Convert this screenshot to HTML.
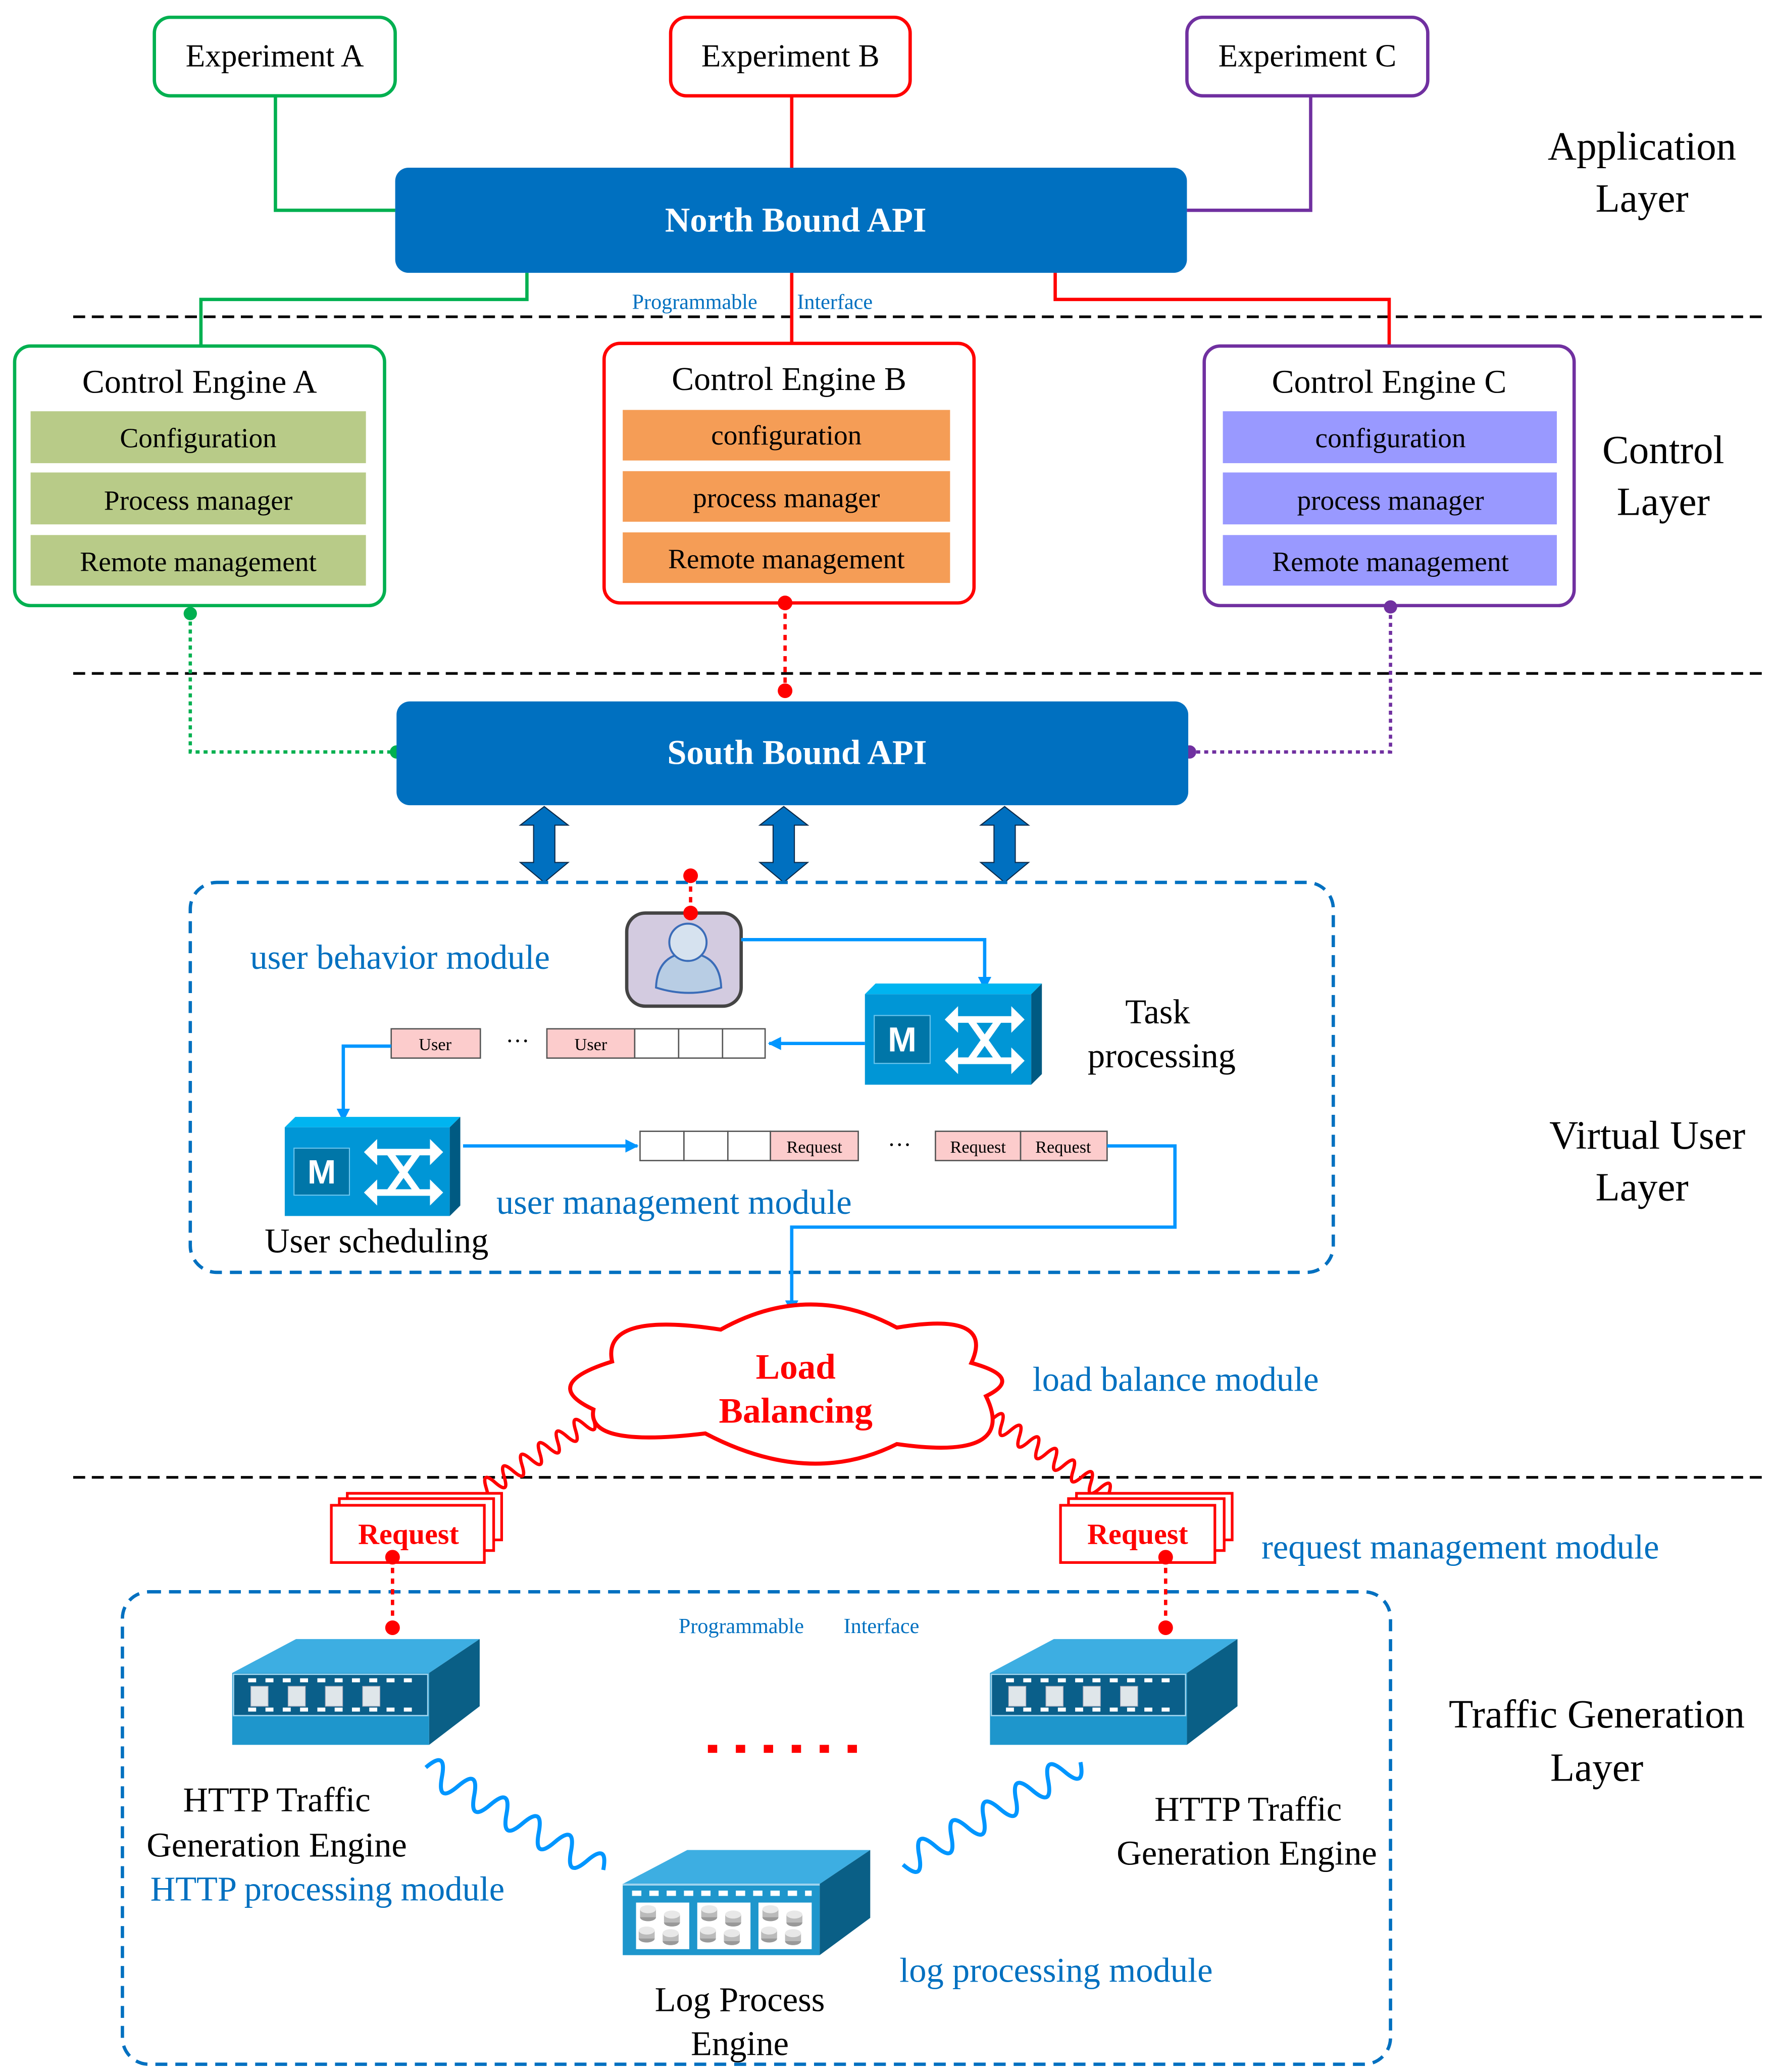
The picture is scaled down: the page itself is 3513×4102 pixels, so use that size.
<!DOCTYPE html>
<html><head><meta charset="utf-8">
<style>
html,body{margin:0;padding:0;background:#fff;}
svg{display:block;}
text{font-family:"Liberation Serif",serif;}
</style></head>
<body>
<svg width="3513" height="4102" viewBox="0 0 1333.2 1556.8" preserveAspectRatio="none" xmlns="http://www.w3.org/2000/svg">
<defs>
<marker id="ab" markerWidth="10" markerHeight="10" refX="9" refY="5" orient="auto" markerUnits="userSpaceOnUse">
<path d="M0 0 L10 5 L0 10 Z" fill="#0096ff"/></marker>
<g id="sw">
<polygon points="0,0 8,-8 133,-8 125,0" fill="#00b4f0"/>
<rect x="0" y="0" width="125" height="68" fill="#0096d6"/>
<polygon points="125,0 133,-8 133,60 125,68" fill="#005a82"/>
<rect x="7" y="16" width="42" height="36" fill="#0076a8" stroke="#6cc6ee" stroke-width="0.8"/>
<text x="28" y="43" font-weight="bold" font-size="26" fill="#fff" text-anchor="middle" style="font-family:'Liberation Sans',sans-serif">M</text>
<g stroke="#fff" stroke-width="5" fill="none">
<path d="M66 19 H114 M66 50 H114 M79 19 L101 50 M101 19 L79 50"/>
</g>
<g fill="#fff">
<polygon points="60,19 70,9 70,29"/><polygon points="120,19 110,9 110,29"/>
<polygon points="60,50 70,40 70,60"/><polygon points="120,50 110,40 110,60"/>
</g>
</g>
<g id="dev">
<polygon points="0,0 48,-25.5 186,-25.5 148,0" fill="#3daee2"/>
<polygon points="148,0 186,-25.5 186,25 148,54" fill="#0a5f86"/>
<rect x="0" y="0" width="148" height="54" fill="#1e96cc"/>
<rect x="1" y="1" width="146" height="31" fill="#0a5f8a" stroke="#9fd4ee" stroke-width="1"/>
<g fill="#fff">
<rect x="12" y="4" width="6" height="3"/><rect x="25" y="4" width="6" height="3"/><rect x="38" y="4" width="6" height="3"/><rect x="51" y="4" width="6" height="3"/><rect x="64" y="4" width="6" height="3"/><rect x="77" y="4" width="6" height="3"/><rect x="90" y="4" width="6" height="3"/><rect x="103" y="4" width="6" height="3"/><rect x="116" y="4" width="6" height="3"/><rect x="129" y="4" width="6" height="3"/>
<rect x="12" y="26" width="6" height="3"/><rect x="25" y="26" width="6" height="3"/><rect x="38" y="26" width="6" height="3"/><rect x="51" y="26" width="6" height="3"/><rect x="64" y="26" width="6" height="3"/><rect x="77" y="26" width="6" height="3"/><rect x="90" y="26" width="6" height="3"/><rect x="103" y="26" width="6" height="3"/><rect x="116" y="26" width="6" height="3"/><rect x="129" y="26" width="6" height="3"/>
</g>
<g fill="#dfe6ea" stroke="#aab" stroke-width="0.5">
<rect x="14" y="10" width="13" height="15"/><rect x="42" y="10" width="13" height="15"/><rect x="70" y="10" width="13" height="15"/><rect x="98" y="10" width="13" height="15"/>
</g>
</g>
<g id="db">
<ellipse cx="6" cy="9" rx="6" ry="3" fill="#999"/><rect x="0" y="3" width="12" height="6" fill="#bbb"/><ellipse cx="6" cy="3" rx="6" ry="3" fill="#e8e8e8"/>
</g>
</defs>

<g stroke="#000" stroke-width="2" stroke-dasharray="9,5">
<line x1="55" y1="238" x2="1325" y2="238"/>
<line x1="55" y1="506" x2="1325" y2="506"/>
<line x1="55" y1="1110" x2="1325" y2="1110"/>
</g>

<path d="M207 72 V158 H297" stroke="#00b050" stroke-width="2.5" fill="none"/>
<path d="M595 72 V126" stroke="#ff0000" stroke-width="2.5" fill="none"/>
<path d="M985 72 V158 H892" stroke="#7030a0" stroke-width="2.5" fill="none"/>
<path d="M396 205 V225 H151 V260" stroke="#00b050" stroke-width="2.5" fill="none"/>
<path d="M595 205 V258" stroke="#ff0000" stroke-width="2.5" fill="none"/>
<path d="M793 205 V225 H1044 V260" stroke="#ff0000" stroke-width="2.5" fill="none"/>

<rect x="116" y="13" width="181" height="59" rx="12" fill="#fff" stroke="#00b050" stroke-width="2.5"/>
<text x="206.5" y="50" font-size="24" text-anchor="middle">Experiment A</text>
<rect x="504" y="13" width="180" height="59" rx="12" fill="#fff" stroke="#ff0000" stroke-width="2.5"/>
<text x="594" y="50" font-size="24" text-anchor="middle">Experiment B</text>
<rect x="892" y="13" width="181" height="59" rx="12" fill="#fff" stroke="#7030a0" stroke-width="2.5"/>
<text x="982.5" y="50" font-size="24" text-anchor="middle">Experiment C</text>

<rect x="297" y="126" width="595" height="79" rx="10" fill="#0070c0"/>
<text x="598" y="174" font-size="26" font-weight="bold" fill="#fff" text-anchor="middle">North Bound API</text>
<text x="475" y="232" font-size="16" fill="#0070c0">Programmable</text>
<text x="599" y="232" font-size="16" fill="#0070c0">Interface</text>

<g font-size="30" text-anchor="middle">
<text x="1234" y="120">Application</text><text x="1234" y="159">Layer</text>
<text x="1250" y="348">Control</text><text x="1250" y="387">Layer</text>
<text x="1238" y="863">Virtual User</text><text x="1234" y="902">Layer</text>
<text x="1200" y="1298">Traffic Generation</text><text x="1200" y="1338">Layer</text>
</g>

<rect x="11" y="260" width="278" height="195" rx="12" fill="#fff" stroke="#00b050" stroke-width="2.5"/>
<text x="150" y="295" font-size="25" text-anchor="middle">Control Engine A</text>
<g fill="#b8cb88"><rect x="23" y="309" width="252" height="39"/><rect x="23" y="355" width="252" height="39"/><rect x="23" y="402" width="252" height="38"/></g>
<g font-size="21" text-anchor="middle"><text x="149" y="336">Configuration</text><text x="149" y="383">Process manager</text><text x="149" y="429">Remote management</text></g>

<rect x="454" y="258" width="278" height="195" rx="12" fill="#fff" stroke="#ff0000" stroke-width="2.5"/>
<text x="593" y="293" font-size="25" text-anchor="middle">Control Engine B</text>
<g fill="#f59d56"><rect x="468" y="308" width="246" height="38"/><rect x="468" y="354" width="246" height="38"/><rect x="468" y="400" width="246" height="38"/></g>
<g font-size="21" text-anchor="middle"><text x="591" y="334">configuration</text><text x="591" y="381">process manager</text><text x="591" y="427">Remote management</text></g>

<rect x="905" y="260" width="278" height="195" rx="12" fill="#fff" stroke="#7030a0" stroke-width="2.5"/>
<text x="1044" y="295" font-size="25" text-anchor="middle">Control Engine C</text>
<g fill="#9999ff"><rect x="919" y="309" width="251" height="39"/><rect x="919" y="355" width="251" height="39"/><rect x="919" y="402" width="251" height="38"/></g>
<g font-size="21" text-anchor="middle"><text x="1045" y="336">configuration</text><text x="1045" y="383">process manager</text><text x="1045" y="429">Remote management</text></g>

<path d="M143 461 V565 H298" stroke="#00b050" stroke-width="2.5" stroke-dasharray="3,3" fill="none"/>
<circle cx="143" cy="461" r="5" fill="#00b050"/><circle cx="298" cy="565" r="5" fill="#00b050"/>
<path d="M590 453 V519" stroke="#ff0000" stroke-width="2.5" stroke-dasharray="4,4" fill="none"/>
<circle cx="590" cy="453" r="5.5" fill="#ff0000"/><circle cx="590" cy="519" r="5.5" fill="#ff0000"/>
<path d="M1045 456 V565 H894" stroke="#7030a0" stroke-width="2.5" stroke-dasharray="3,3" fill="none"/>
<circle cx="1045" cy="456" r="5" fill="#7030a0"/><circle cx="894" cy="565" r="5" fill="#7030a0"/>

<rect x="298" y="527" width="595" height="78" rx="10" fill="#0070c0"/>
<text x="599" y="574" font-size="26" font-weight="bold" fill="#fff" text-anchor="middle">South Bound API</text>

<g fill="#0070c0" stroke="#0a2a4a" stroke-width="0.8">
<polygon points="409,606 427,620 417,620 417,648 427,648 409,663 391,648 401,648 401,620 391,620"/>
<polygon points="589,606 607,620 597,620 597,648 607,648 589,663 571,648 581,648 581,620 571,620"/>
<polygon points="755,606 773,620 763,620 763,648 773,648 755,663 737,648 747,648 747,620 737,620"/>
</g>

<rect x="143" y="663" width="859" height="293" rx="20" fill="none" stroke="#0070c0" stroke-width="2.5" stroke-dasharray="9,6"/>
<text x="188" y="728" font-size="26" fill="#0070c0">user behavior module</text>

<path d="M519 658 V686" stroke="#ff0000" stroke-width="2.5" stroke-dasharray="4,4"/>
<circle cx="519" cy="658" r="5.5" fill="#ff0000"/>
<rect x="471" y="686" width="86" height="70" rx="14" fill="#d3cbe0" stroke="#444" stroke-width="2.5"/>
<circle cx="519" cy="686" r="5.5" fill="#ff0000"/>
<g stroke="#3a6cb8" stroke-width="1.5">
<path d="M493 742 Q494 717 517 716 Q541 717 542 742 Q518 750 493 742 Z" fill="#b8cde4"/>
<circle cx="517" cy="708" r="14" fill="#d6e2ef"/>
</g>

<path d="M557 706 H740 V743" stroke="#0096ff" stroke-width="2.5" fill="none" marker-end="url(#ab)"/>
<use href="#sw" x="650" y="747"/>
<text x="870" y="769" font-size="26" text-anchor="middle">Task</text>
<text x="873" y="802" font-size="26" text-anchor="middle">processing</text>

<g stroke="#555" stroke-width="1">
<rect x="294" y="773" width="67" height="22" fill="#fccccc"/>
<rect x="411" y="773" width="66" height="22" fill="#fccccc"/>
<rect x="477" y="773" width="33" height="22" fill="#fff"/>
<rect x="510" y="773" width="33" height="22" fill="#fff"/>
<rect x="543" y="773" width="32" height="22" fill="#fff"/>
</g>
<g font-size="13" text-anchor="middle"><text x="327" y="789">User</text><text x="444" y="789">User</text></g>
<text x="389" y="788" font-size="18" text-anchor="middle">···</text>
<path d="M650 784 H578" stroke="#0096ff" stroke-width="2.5" fill="none" marker-end="url(#ab)"/>
<path d="M294 786 H258 V842" stroke="#0096ff" stroke-width="2.5" fill="none" marker-end="url(#ab)"/>

<use href="#sw" transform="translate(214,847) scale(0.992,0.98)"/>
<text x="283" y="941" font-size="26" text-anchor="middle">User scheduling</text>
<path d="M348 861 H479" stroke="#0096ff" stroke-width="2.5" fill="none" marker-end="url(#ab)"/>
<g stroke="#555" stroke-width="1">
<rect x="481" y="850" width="33" height="22" fill="#fff"/>
<rect x="514" y="850" width="33" height="22" fill="#fff"/>
<rect x="547" y="850" width="32" height="22" fill="#fff"/>
<rect x="579" y="850" width="66" height="22" fill="#fccccc"/>
<rect x="703" y="850" width="64" height="22" fill="#fccccc"/>
<rect x="767" y="850" width="65" height="22" fill="#fccccc"/>
</g>
<g font-size="13" text-anchor="middle"><text x="612" y="866">Request</text><text x="735" y="866">Request</text><text x="799" y="866">Request</text></g>
<text x="676" y="866" font-size="18" text-anchor="middle">···</text>
<text x="373" y="912" font-size="26" fill="#0070c0">user management module</text>
<path d="M832 861 H883 V922 H595 V986" stroke="#0096ff" stroke-width="2.5" fill="none" marker-end="url(#ab)"/>

<path d="M541.6 999 Q608 962 674 997.5 Q748 985 730 1024 Q770 1035 741 1049 Q765 1098 674 1085 Q608 1118 530 1077 Q440 1088 446 1059 Q405 1040 460 1023 Q452 985 541.6 999 Z" fill="#fff" stroke="#ff0000" stroke-width="3"/>
<text x="598" y="1036" font-size="27" font-weight="bold" fill="#ff0000" text-anchor="middle">Load</text>
<text x="598" y="1069" font-size="27" font-weight="bold" fill="#ff0000" text-anchor="middle">Balancing</text>
<text x="776" y="1045" font-size="26" fill="#0070c0">load balance module</text>

<g stroke="#ff0000" stroke-width="2.5" fill="none">
<path transform="translate(446,1066) rotate(147)" d="M0 0 q4 -14 8 0 t8 0 t8 0 t8 0 t8 0 t8 0 t8 0 t8 0 t8 0 t8 0 t8 0 t8 0 t8 0"/>
<path transform="translate(746,1066) rotate(33)" d="M0 0 q4 -14 8 0 t8 0 t8 0 t8 0 t8 0 t8 0 t8 0 t8 0 t8 0 t8 0 t8 0 t8 0 t8 0"/>
</g>

<g fill="#fff" stroke="#ff0000" stroke-width="2">
<rect x="261" y="1122" width="116" height="35"/>
<rect x="255" y="1126" width="116" height="39"/>
<rect x="249" y="1131" width="115" height="43"/>
<rect x="809" y="1122" width="117" height="35"/>
<rect x="803" y="1126" width="117" height="39"/>
<rect x="797" y="1131" width="116" height="43"/>
</g>
<text x="307" y="1160" font-size="22" font-weight="bold" fill="#ff0000" text-anchor="middle">Request</text>
<text x="855" y="1160" font-size="22" font-weight="bold" fill="#ff0000" text-anchor="middle">Request</text>
<text x="948" y="1171" font-size="26" fill="#0070c0">request management module</text>

<rect x="92" y="1196" width="953" height="355" rx="20" fill="none" stroke="#0070c0" stroke-width="2.5" stroke-dasharray="9,6"/>
<g stroke="#ff0000" stroke-width="2.5" stroke-dasharray="4,4">
<line x1="295" y1="1170" x2="295" y2="1223"/><line x1="876" y1="1170" x2="876" y2="1223"/>
</g>
<g fill="#ff0000"><circle cx="295" cy="1170" r="5.5"/><circle cx="295" cy="1223" r="5.5"/><circle cx="876" cy="1170" r="5.5"/><circle cx="876" cy="1223" r="5.5"/></g>
<text x="510" y="1227" font-size="16" fill="#0070c0">Programmable</text>
<text x="634" y="1227" font-size="16" fill="#0070c0">Interface</text>

<use href="#dev" x="174.5" y="1257"/>
<use href="#dev" x="744" y="1257"/>
<g fill="#ff0000"><rect x="532" y="1311" width="7" height="6"/><rect x="553" y="1311" width="7" height="6"/><rect x="574" y="1311" width="7" height="6"/><rect x="595" y="1311" width="7" height="6"/><rect x="616" y="1311" width="7" height="6"/><rect x="637" y="1311" width="7" height="6"/></g>

<g font-size="26" text-anchor="middle">
<text x="208" y="1361">HTTP Traffic</text><text x="208" y="1395">Generation Engine</text>
<text x="938" y="1368">HTTP Traffic</text><text x="937" y="1401">Generation Engine</text>
<text x="556" y="1511">Log Process</text><text x="556" y="1544">Engine</text>
</g>
<text x="113" y="1428" font-size="26" fill="#0070c0">HTTP processing module</text>
<text x="676" y="1489" font-size="26" fill="#0070c0">log processing module</text>

<g stroke="#0096ff" stroke-width="3" fill="none">
<path transform="translate(320,1328) rotate(30)" d="M0 0 q7 -20 14 0 t14 0 t14 0 t14 0 t14 0 t14 0 t14 0 t14 0 t14 0 t14 0 t14 0"/>
<path transform="translate(812,1324) rotate(150)" d="M0 0 q7 -20 14 0 t14 0 t14 0 t14 0 t14 0 t14 0 t14 0 t14 0 t14 0 t14 0 t14 0"/>
</g>

<g transform="translate(468,1415.5)">
<polygon points="0,0 48.5,-25.5 186,-25.5 148,0" fill="#3daee2"/>
<polygon points="148,0 186,-25.5 186,25.5 148,53.5" fill="#0a5f86"/>
<rect x="0" y="0" width="148" height="53.5" fill="#1e96cc"/>
<line x1="0" y1="0.5" x2="148" y2="0.5" stroke="#9fd4ee" stroke-width="1.5"/>
<g fill="#fff">
<rect x="7" y="5" width="7" height="4"/><rect x="20" y="5" width="7" height="4"/><rect x="33" y="5" width="7" height="4"/><rect x="46" y="5" width="7" height="4"/><rect x="59" y="5" width="7" height="4"/><rect x="72" y="5" width="7" height="4"/><rect x="85" y="5" width="7" height="4"/><rect x="98" y="5" width="7" height="4"/><rect x="111" y="5" width="7" height="4"/><rect x="124" y="5" width="7" height="4"/><rect x="137" y="5" width="5" height="4"/>
<rect x="10" y="14" width="40" height="35"/><rect x="56" y="14" width="40" height="35"/><rect x="102" y="14" width="40" height="35"/>
</g>
<use href="#db" x="13" y="16"/><use href="#db" x="31" y="20"/><use href="#db" x="12" y="32"/><use href="#db" x="30" y="34"/>
<use href="#db" x="59" y="16"/><use href="#db" x="77" y="20"/><use href="#db" x="58" y="32"/><use href="#db" x="76" y="34"/>
<use href="#db" x="105" y="16"/><use href="#db" x="123" y="20"/><use href="#db" x="104" y="32"/><use href="#db" x="122" y="34"/>
</g>
</svg>
</body></html>
